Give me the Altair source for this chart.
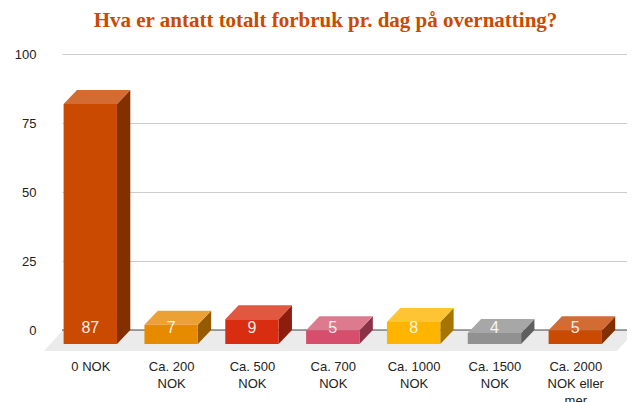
import altair as alt
import pandas as pd

TITLE = "Hva er antatt totalt forbruk pr. dag på overnatting?"
categories = ["0 NOK", "Ca. 200 NOK", "Ca. 500 NOK", "Ca. 700 NOK", "Ca. 1000 NOK", "Ca. 1500 NOK", "Ca. 2000 NOK eller mer"]
cat_lines = [["0 NOK"], ["Ca. 200", "NOK"], ["Ca. 500", "NOK"], ["Ca. 700", "NOK"], ["Ca. 1000", "NOK"], ["Ca. 1500", "NOK"], ["Ca. 2000", "NOK eller", "mer"]]
values = [87, 7, 9, 5, 8, 4, 5]
front_colors = ["#C94A00", "#E68A00", "#D92D12", "#D64E6B", "#FFB400", "#919191", "#C94A00"]
top_colors = ["#D26C33", "#EBA133", "#E1573F", "#DE7A8E", "#FFC433", "#A7A7A7", "#D26C33"]
side_colors = ["#833000", "#965A00", "#8D1D0C", "#8B3346", "#A67500", "#5F5F5F", "#833000"]
y_ticks = [0, 25, 50, 75, 100]

HALF = 0.33
DX = 0.165
DY = 5.07
X_DOM = [-0.350, 6.640]
Y_DOM = [-7.6, 100]
FONT = "Liberation Sans"

xs = alt.Scale(domain=X_DOM, nice=False, zero=False)
ys = alt.Scale(domain=Y_DOM, nice=False, zero=False)

front, top, side, floor_rows, labels = [], [], [], [], []
for i, v in enumerate(values):
    x0, x1 = i - HALF, i + HALF
    front.append(dict(x=x0, x2=x1, y=v - DY, y2=-DY, c=front_colors[i]))
    for px, py, py2 in [(x0, v - DY, v - DY), (x0 + DX, v, v - DY), (x1, v, v - DY), (x1 + DX, v, v)]:
        top.append(dict(id=i, x=px, y=py, y2=py2, c=top_colors[i]))
    for px, py, py2 in [(x1, v - DY, -DY), (x1 + DX, v, 0)]:
        side.append(dict(id=i, x=px, y=py, y2=py2, c=side_colors[i]))
    labels.append(dict(x=i, y=0.8, t=str(v)))

for px, py, py2 in [(-0.573, -7.6, -7.6), (-0.338, 0, -7.6), (6.516, 0, -7.6), (6.75, 0, 0)]:
    floor_rows.append(dict(x=px, y=py, y2=py2))

label_js = "[" + ",".join("[" + ",".join(f"'{s}'" for s in l) + "]" for l in cat_lines) + "]"

x_axis = alt.Axis(values=list(range(len(categories))), title=None, domain=False, ticks=False, grid=False,
                  labelExpr=f"{label_js}[datum.value]", labelFont=FONT, labelFontSize=13,
                  labelColor="#222222", labelPadding=9, labelLineHeight=17, labelOverlap=False,
                  labelBound=False, labelFlush=False, labelAngle=0, labelBaseline="top")
y_axis = alt.Axis(values=y_ticks, title=None, domain=False, ticks=False, grid=True, gridColor="#CCCCCC",
                  gridWidth=1, labelFont=FONT, labelFontSize=13, labelColor="#222222", labelPadding=26)

X = alt.X("x:Q", scale=xs, axis=x_axis)
Y = alt.Y("y:Q", scale=ys, axis=y_axis)

floor = alt.Chart(pd.DataFrame(floor_rows)).mark_area(color="#EBEBEB").encode(x=X, y=Y, y2="y2:Q")
baseline = alt.Chart(pd.DataFrame({"y": [0]})).mark_rule(color="#444444", strokeWidth=1).encode(y=Y)


def faces(rows):
    return alt.Chart(pd.DataFrame(rows)).mark_area(strokeWidth=0).encode(
        x=X, y=Y, y2="y2:Q", detail="id:N", color=alt.Color("c:N", scale=None),
    )


front_layer = alt.Chart(pd.DataFrame(front)).mark_rect().encode(
    x=X, x2="x2:Q", y=Y, y2="y2:Q", color=alt.Color("c:N", scale=None),
)
text = alt.Chart(pd.DataFrame(labels)).mark_text(font=FONT, fontSize=16, color="#FFFFFF", opacity=0.9, baseline="middle").encode(
    x=X, y=Y, text="t:N",
)

chart = alt.layer(floor, baseline, faces(side), faces(top), front_layer, text).properties(
    width=565,
    height=297,
    padding={"left": 54, "top": 46, "right": 0, "bottom": 51},
    autosize=alt.AutoSizeParams(type="none"),
    title=alt.TitleParams(TITLE, font="Liberation Serif", fontWeight="bold", fontSize=21, color="#C94A00",
                          anchor="middle", dx=-19, offset=17),
).configure_view(stroke=None)

chart.save("out.html", embed_options={"renderer": "svg", "actions": False})
